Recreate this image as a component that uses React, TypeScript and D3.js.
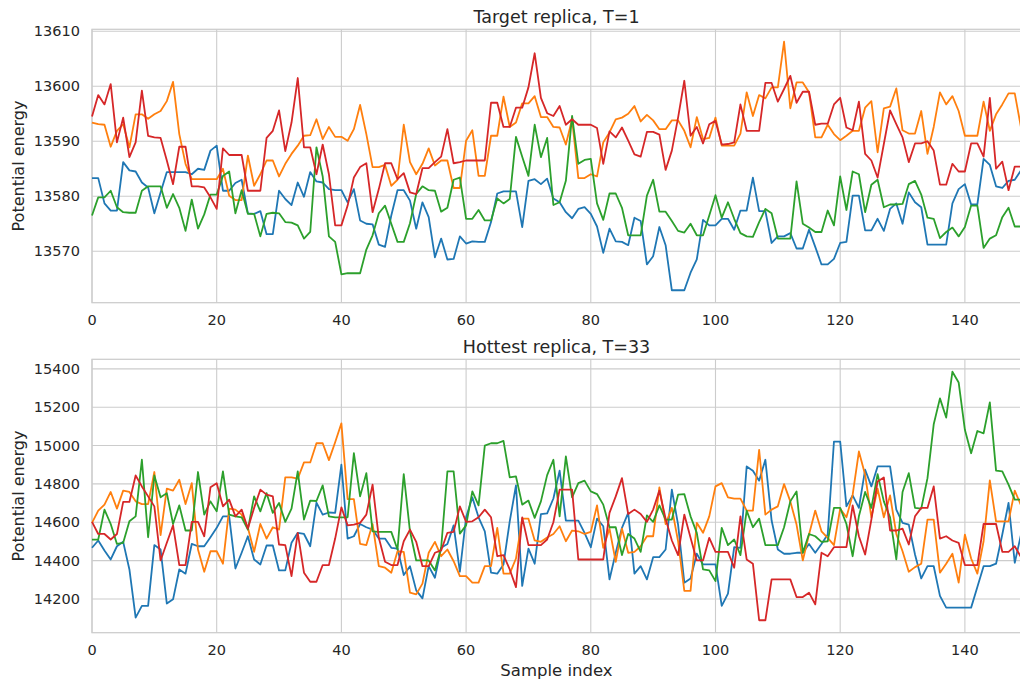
import React, { useEffect, useRef } from "react";
import * as d3 from "d3";

// sample index 0..149, four replica chains per panel
const xTicks = [0, 20, 40, 60, 80, 100, 120, 140];
const topTicks = [13570, 13580, 13590, 13600, 13610];
const bottomTicks = [14200, 14400, 14600, 14800, 15000, 15200, 15400];

const colors = ["#1f77b4", "#ff7f0e", "#2ca02c", "#d62728"];

// Target replica, T=1
const topBlue = [
  13583.3, 13583.3, 13578.7, 13577.4, 13577.4, 13586.2, 13584.7, 13584.5, 13582.5, 13581.6,
  13576.9, 13580.7, 13584.4, 13584.4, 13584.4, 13584.4, 13584.0, 13585.0, 13584.8, 13588.3,
  13589.2, 13581.0, 13581.0, 13582.4, 13583.0, 13576.9, 13576.8, 13577.3, 13573.1, 13573.1,
  13581.0, 13579.5, 13578.4, 13582.5, 13579.9, 13584.4, 13582.7, 13582.5, 13581.3, 13581.1,
  13581.1, 13578.9, 13581.3, 13575.6, 13575.0, 13574.9, 13571.2, 13570.8, 13576.5, 13581.1,
  13581.1, 13579.2, 13574.1, 13578.9, 13576.2, 13568.9, 13572.3, 13568.5, 13568.6, 13572.7,
  13571.4, 13571.8, 13571.7, 13571.7, 13575.3, 13580.5, 13580.9, 13580.9, 13580.9, 13574.4,
  13582.8, 13583.1, 13582.2, 13583.2, 13579.6, 13578.9, 13577.1, 13576.0, 13577.7, 13578.0,
  13576.8, 13574.5, 13569.7, 13574.1, 13571.8, 13571.7, 13571.1, 13576.1, 13575.5, 13567.6,
  13569.1, 13574.4, 13571.1, 13562.9, 13562.9, 13562.9, 13566.1, 13568.5, 13575.7, 13574.7,
  13574.7, 13575.9, 13575.9, 13573.9, 13577.4, 13577.4, 13583.4, 13577.3, 13577.3, 13571.5,
  13572.7, 13572.7, 13573.3, 13570.5, 13570.5, 13573.9, 13570.8, 13567.6, 13567.6, 13568.6,
  13571.5, 13571.7, 13580.1, 13580.1, 13573.8, 13573.8, 13575.9, 13573.7, 13577.7, 13578.7,
  13575.0, 13580.7, 13578.9, 13578.0, 13571.2, 13571.2, 13571.2, 13571.2, 13578.7, 13581.3,
  13582.2, 13578.5, 13578.5, 13586.8, 13585.7, 13581.8, 13581.5, 13582.8, 13583.0, 13584.7,
];
const topOrange = [
  13593.4, 13593.1, 13593.0, 13589.0, 13591.9, 13593.1, 13588.9, 13594.9, 13594.9, 13594.1,
  13594.9, 13595.5, 13597.3, 13600.8, 13591.3, 13585.9, 13583.1, 13583.1, 13583.1, 13583.1,
  13583.1, 13585.0, 13580.1, 13579.3, 13579.3, 13587.4, 13581.9, 13584.0, 13586.5, 13586.5,
  13583.6, 13585.9, 13587.7, 13589.2, 13591.0, 13591.1, 13594.0, 13590.4, 13592.6, 13590.8,
  13590.8, 13590.1, 13592.2, 13596.6, 13591.3, 13585.3, 13585.3, 13585.7, 13581.9, 13583.0,
  13593.0, 13586.2, 13584.0, 13585.9, 13588.7, 13585.6, 13586.5, 13586.5, 13581.5, 13581.5,
  13590.1, 13592.0, 13583.7, 13583.7, 13591.0, 13591.0, 13598.1, 13592.6, 13593.4, 13596.9,
  13596.9, 13598.2, 13594.4, 13594.4, 13592.6, 13592.5, 13589.4, 13594.0, 13583.3, 13583.3,
  13584.0, 13583.6, 13589.8, 13591.6, 13594.0, 13594.3, 13595.0, 13596.4, 13593.6, 13594.8,
  13593.8, 13592.2, 13592.2, 13593.8, 13593.8, 13591.9, 13588.9, 13594.4, 13590.4, 13590.6,
  13594.3, 13589.2, 13589.2, 13589.2, 13591.4, 13598.9, 13594.6, 13598.4, 13597.8, 13599.8,
  13599.8, 13608.1, 13596.0, 13600.7, 13600.7, 13598.9, 13590.7, 13590.7, 13593.0, 13591.3,
  13590.2, 13591.0, 13591.9, 13591.9, 13596.1, 13597.3, 13588.0, 13596.0, 13596.3, 13599.6,
  13592.0, 13591.4, 13591.4, 13595.5, 13587.7, 13592.6, 13598.9, 13596.7, 13598.2, 13595.5,
  13591.0, 13591.0, 13591.0, 13597.2, 13591.9, 13594.9, 13596.7, 13598.7, 13598.7, 13592.5,
];
const topGreen = [
  13576.5, 13579.8, 13579.8, 13581.0, 13578.0, 13577.1, 13577.0, 13577.0, 13581.0, 13581.8,
  13581.8, 13581.8, 13577.9, 13580.4, 13577.9, 13573.7, 13579.4, 13574.1, 13576.7, 13580.3,
  13580.3, 13583.7, 13584.5, 13576.9, 13581.1, 13576.8, 13576.8, 13572.7, 13576.8, 13577.0,
  13576.9, 13575.3, 13575.2, 13574.7, 13572.3, 13573.5, 13588.9, 13583.6, 13572.7, 13571.7,
  13565.8, 13566.0, 13566.0, 13566.0, 13570.3, 13572.9, 13576.9, 13578.3, 13575.0, 13571.7,
  13571.7, 13575.1, 13580.4, 13581.8, 13581.1, 13581.0, 13577.2, 13577.9, 13583.0, 13583.4,
  13575.9, 13575.9, 13577.5, 13575.6, 13575.6, 13579.6, 13578.7, 13579.5, 13590.8, 13587.2,
  13583.7, 13593.0, 13587.1, 13590.6, 13578.4, 13578.9, 13582.8, 13594.6, 13585.9, 13586.6,
  13586.8, 13578.7, 13575.7, 13580.5, 13580.5, 13577.9, 13572.9, 13572.9, 13572.9, 13580.1,
  13583.0, 13577.2, 13577.2, 13575.5, 13573.7, 13573.4, 13575.0, 13572.9, 13572.9, 13576.5,
  13580.2, 13576.1, 13578.9, 13575.9, 13573.3, 13572.7, 13572.6, 13575.3, 13577.7, 13576.9,
  13572.3, 13572.3, 13572.3, 13582.7, 13575.0, 13574.3, 13573.5, 13573.5, 13577.4, 13574.7,
  13583.6, 13577.5, 13584.5, 13584.0, 13577.1, 13582.1, 13583.0, 13578.0, 13578.5, 13578.5,
  13578.6, 13582.2, 13582.8, 13580.3, 13576.1, 13575.9, 13572.4, 13573.5, 13574.3, 13572.7,
  13574.4, 13578.3, 13578.3, 13570.6, 13572.3, 13572.9, 13576.2, 13577.9, 13574.5, 13574.5,
];
const topRed = [
  13594.5, 13598.4, 13596.7, 13600.4, 13589.8, 13594.3, 13587.1, 13589.8, 13599.2, 13591.0,
  13590.7, 13590.6, 13586.5, 13582.2, 13589.0, 13589.0, 13581.8, 13581.8, 13581.6, 13579.8,
  13577.7, 13588.7, 13587.5, 13587.5, 13587.5, 13581.0, 13581.0, 13581.0, 13590.6, 13591.9,
  13595.6, 13588.2, 13593.4, 13601.5, 13588.9, 13588.9, 13584.0, 13589.4, 13584.0, 13574.7,
  13574.7, 13578.3, 13583.4, 13585.3, 13586.0, 13577.1, 13581.3, 13586.0, 13586.0, 13583.1,
  13584.2, 13580.7, 13580.4, 13585.1, 13585.1, 13586.2, 13587.2, 13592.2, 13586.0, 13586.2,
  13586.5, 13586.5, 13586.5, 13586.5, 13597.0, 13597.0, 13592.6, 13592.6, 13596.1, 13596.1,
  13599.8, 13606.0, 13597.9, 13595.1, 13594.6, 13596.4, 13593.0, 13594.0, 13593.0, 13593.0,
  13593.0, 13592.4, 13585.9, 13591.8, 13590.7, 13592.5, 13590.1, 13587.6, 13587.2, 13591.7,
  13591.7, 13591.2, 13584.8, 13588.3, 13594.3, 13601.0, 13591.0, 13592.6, 13589.6, 13593.1,
  13593.7, 13589.4, 13589.5, 13589.8, 13596.7, 13591.9, 13591.9, 13591.9, 13600.6, 13600.6,
  13597.2, 13599.5, 13601.9, 13597.0, 13599.0, 13599.0, 13593.0, 13593.2, 13593.2, 13596.7,
  13597.9, 13592.5, 13592.0, 13597.2, 13587.7, 13586.5, 13583.4, 13589.5, 13595.6, 13593.1,
  13590.7, 13586.2, 13589.6, 13589.6, 13590.0, 13588.3, 13582.1, 13582.1, 13585.9, 13584.5,
  13584.5, 13589.6, 13589.6, 13587.2, 13597.9, 13585.0, 13586.3, 13581.1, 13585.4, 13585.4,
];

// Hottest replica, T=33
const bottomBlue = [
  14467, 14505, 14453, 14406, 14475, 14498, 14354, 14103, 14164, 14164,
  14481, 14458, 14176, 14198, 14354, 14332, 14487, 14475, 14475, 14522,
  14571, 14631, 14631, 14359, 14441, 14527, 14406, 14380, 14479, 14479,
  14349, 14349, 14493, 14545, 14539, 14475, 14702, 14640, 14651, 14649,
  14900, 14515, 14527, 14591, 14574, 14562, 14515, 14515, 14467, 14463,
  14325, 14371, 14245, 14203, 14371, 14311, 14467, 14487, 14584, 14342,
  14626, 14730, 14626, 14553, 14337, 14332, 14380, 14605, 14792, 14268,
  14463, 14384, 14643, 14646, 14724, 14869, 14609, 14609, 14609, 14545,
  14470, 14619, 14579, 14302, 14441, 14571, 14649, 14332, 14371, 14302,
  14418, 14418, 14458, 14770, 14588, 14285, 14307, 14436, 14380, 14380,
  14380, 14164, 14228, 14470, 14467, 14891, 14869, 14817, 14926, 14609,
  14458, 14436, 14436, 14441, 14441, 14487, 14441, 14487, 14536, 15021,
  15021, 14683, 14740, 14675, 14874, 14787, 14891, 14891, 14891, 14666,
  14597, 14588, 14432, 14307, 14371, 14371, 14216, 14155, 14155, 14155,
  14155, 14155, 14262, 14371, 14371, 14384, 14536, 14701, 14389, 14536,
];
const bottomOrange = [
  14597, 14661, 14692, 14758, 14671, 14765, 14758, 14709, 14695, 14695,
  14862, 14533, 14775, 14765, 14822, 14695, 14804, 14458, 14342, 14449,
  14449, 14384, 14671, 14666, 14640, 14571, 14446, 14591, 14515, 14574,
  14562, 14834, 14834, 14827, 14912, 14912, 15012, 15012, 14924, 15017,
  15116, 14721, 14721, 14487, 14481, 14591, 14371, 14363, 14337, 14449,
  14446, 14233, 14224, 14280, 14441, 14498, 14423, 14458, 14397, 14319,
  14319, 14285, 14285, 14371, 14371, 14571, 14332, 14332, 14411, 14619,
  14619, 14505, 14498, 14521, 14539, 14579, 14501, 14557, 14553, 14539,
  14550, 14688, 14467, 14567, 14394, 14567, 14441, 14446, 14475, 14527,
  14527, 14782, 14591, 14675, 14501, 14242, 14242, 14597, 14545, 14631,
  14787, 14804, 14730, 14723, 14723, 14661, 14661, 14978, 14640, 14666,
  14683, 14799, 14709, 14588, 14401, 14536, 14661, 14553, 14519, 14481,
  14671, 14626, 14744, 14969, 14848, 14626, 14775, 14626, 14740, 14539,
  14449, 14342, 14366, 14384, 14614, 14614, 14337, 14384, 14436, 14285,
  14536, 14411, 14332, 14501, 14818, 14605, 14605, 14605, 14765, 14688,
];
const bottomGreen = [
  14510, 14510, 14666, 14591, 14487, 14493, 14605, 14631, 14926, 14522,
  14844, 14730, 14752, 14591, 14688, 14557, 14557, 14862, 14640, 14709,
  14657, 14865, 14640, 14631, 14626, 14562, 14735, 14657, 14752, 14649,
  14701, 14602, 14671, 14865, 14614, 14713, 14711, 14792, 14631, 14626,
  14626, 14626, 14960, 14735, 14856, 14553, 14550, 14550, 14550, 14458,
  14851, 14553, 14401, 14401, 14401, 14349, 14467, 14865, 14865, 14541,
  14584, 14761, 14688, 15000, 15012, 15012, 15024, 14834, 14839, 14692,
  14713, 14623, 14709, 14846, 14926, 14631, 14943, 14730, 14804, 14817,
  14761, 14747, 14692, 14574, 14574, 14429, 14539, 14515, 14446, 14636,
  14602, 14688, 14614, 14614, 14744, 14747, 14631, 14545, 14354, 14349,
  14293, 14571, 14481, 14510, 14429, 14661, 14574, 14619, 14481, 14481,
  14481, 14574, 14709, 14761, 14441, 14539, 14527, 14498, 14501, 14675,
  14675, 14591, 14423, 14631, 14758, 14675, 14851, 14709, 14626, 14406,
  14758, 14856, 14675, 14671, 14830, 15111, 15246, 15146, 15385, 15329,
  15082, 14960, 15076, 15064, 15225, 14869, 14865, 14796, 14718, 14718,
];
const bottomRed = [
  14602, 14539, 14539, 14510, 14539, 14706, 14706, 14844, 14787, 14735,
  14683, 14401, 14493, 14584, 14377, 14377, 14602, 14602, 14527, 14782,
  14804, 14683, 14718, 14631, 14666, 14567, 14675, 14770, 14744, 14735,
  14484, 14481, 14319, 14545, 14337, 14290, 14290, 14377, 14377, 14515,
  14678, 14584, 14588, 14597, 14640, 14796, 14519, 14394, 14377, 14377,
  14501, 14562, 14498, 14371, 14371, 14441, 14453, 14545, 14550, 14683,
  14602, 14605, 14626, 14666, 14626, 14423, 14429, 14354, 14262, 14626,
  14481, 14481, 14481, 14510, 14600, 14770, 14770, 14770, 14406, 14406,
  14406, 14406, 14406, 14649, 14735, 14830, 14643, 14666, 14643, 14602,
  14666, 14765, 14619, 14505, 14429, 14640, 14519, 14401, 14401, 14519,
  14446, 14446, 14446, 14363, 14631, 14406, 14384, 14089, 14089, 14302,
  14302, 14302, 14302, 14210, 14210, 14233, 14172, 14441, 14423, 14470,
  14470, 14470, 14688, 14527, 14432, 14614, 14813, 14834, 14557, 14557,
  14567, 14484, 14631, 14675, 14675, 14787, 14515, 14527, 14505, 14493,
  14377, 14377, 14377, 14591, 14591, 14591, 14446, 14446, 14475, 14418,
];

const panels = [
  { title: "Target replica, T=1", series: [topBlue, topOrange, topGreen, topRed], ticks: topTicks, top: 29.3, bottom: 302.7 },
  { title: "Hottest replica, T=33", series: [bottomBlue, bottomOrange, bottomGreen, bottomRed], ticks: bottomTicks, top: 359.3, bottom: 632.7 },
];

const FONT = "DejaVu Sans, sans-serif";
const TEXT = "#262626";
const GRID = "#cccccc";

export default function App() {
  const svgRef = useRef<SVGSVGElement>(null);

  useEffect(() => {
    const svg = d3.select(svgRef.current);
    svg.selectAll("*").remove();

    const x = d3.scaleLinear().domain([0, 149]).range([92, 1021]);

    panels.forEach((p, pi) => {
      const all = p.series.flat();
      const [lo, hi] = d3.extent(all) as [number, number];
      const pad = (hi - lo) * 0.05; // matplotlib default margins
      const y = d3.scaleLinear().domain([lo - pad, hi + pad]).range([p.bottom, p.top]);
      const g = svg.append("g");

      // grid
      g.selectAll(".vg").data(xTicks).join("line")
        .attr("x1", (d) => x(d)).attr("x2", (d) => x(d))
        .attr("y1", p.top).attr("y2", p.bottom)
        .attr("stroke", GRID).attr("stroke-width", 1.1);
      g.selectAll(".hg").data(p.ticks).join("line")
        .attr("x1", 92).attr("x2", 1021)
        .attr("y1", (d) => y(d)).attr("y2", (d) => y(d))
        .attr("stroke", GRID).attr("stroke-width", 1.1);

      // frame
      g.append("rect")
        .attr("x", 92).attr("y", p.top)
        .attr("width", 1021 - 92).attr("height", p.bottom - p.top)
        .attr("fill", "none").attr("stroke", GRID).attr("stroke-width", 1.25);

      // lines
      const line = d3.line<number>().x((d, i) => x(i)).y((d) => y(d));
      p.series.forEach((s, si) => {
        g.append("path").datum(s)
          .attr("fill", "none")
          .attr("stroke", colors[si])
          .attr("stroke-width", 1.8)
          .attr("stroke-linejoin", "round")
          .attr("d", line);
      });

      // tick labels
      g.selectAll(".xt").data(xTicks).join("text")
        .attr("x", (d) => x(d)).attr("y", p.bottom + 22.5)
        .attr("text-anchor", "middle")
        .attr("font-family", FONT).attr("font-size", 14.5).attr("fill", TEXT)
        .text((d) => String(d));
      g.selectAll(".yt").data(p.ticks).join("text")
        .attr("x", 80).attr("y", (d) => y(d)).attr("dy", "0.36em")
        .attr("text-anchor", "end")
        .attr("font-family", FONT).attr("font-size", 14.5).attr("fill", TEXT)
        .text((d) => String(d));

      // title
      g.append("text")
        .attr("x", (92 + 1021) / 2).attr("y", p.top - 6)
        .attr("text-anchor", "middle")
        .attr("font-family", FONT).attr("font-size", 17.5).attr("fill", TEXT)
        .text(p.title);

      // y label
      const cy = (p.top + p.bottom) / 2;
      g.append("text")
        .attr("transform", `translate(24,${cy}) rotate(-90)`)
        .attr("text-anchor", "middle")
        .attr("font-family", FONT).attr("font-size", 16).attr("fill", TEXT)
        .text("Potential energy");

      if (pi === 1) {
        g.append("text")
          .attr("x", (92 + 1021) / 2).attr("y", 676)
          .attr("text-anchor", "middle")
          .attr("font-family", FONT).attr("font-size", 16.5).attr("fill", TEXT)
          .text("Sample index");
      }
    });
  }, []);

  return (
    <svg
      ref={svgRef}
      width={1020}
      height={681}
      style={{ position: "absolute", left: 0, top: 0, background: "#fff" }}
    />
  );
}
